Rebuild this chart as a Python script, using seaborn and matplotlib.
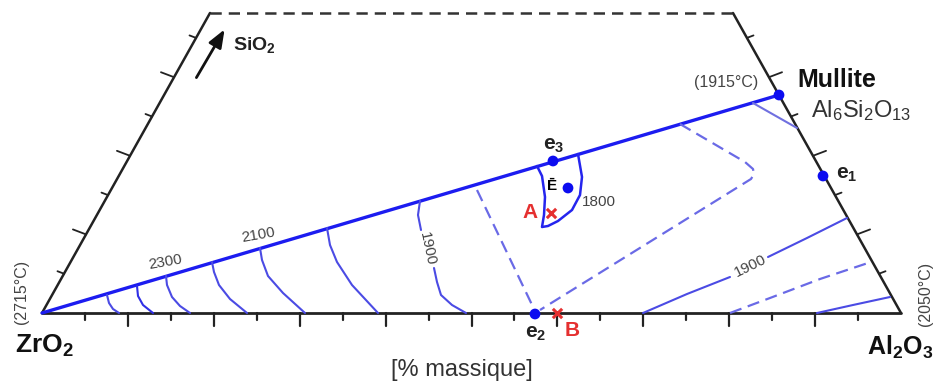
import numpy as np
import pandas as pd
import seaborn as sns
import matplotlib.pyplot as plt

# --- diagram data (pixel-like diagram coordinates, y grows downward) ---
W, H = 936, 385
zro2_corner = (42, 313)
al2o3_corner = (901, 313)
top_left = (210, 13)
top_right = (733, 13)

# liquidus valley ZrO2 -> mullite
valley_x = [42, 779]
valley_y = [313, 95]
mullite_tie_x = [753, 797]
mullite_tie_y = [103, 128]

# isotherms in the ZrO2 field (solid)
iso_zr = {
    "c1": ([107, 109, 113, 119], [295, 303, 309, 313]),
    "c2": ([137, 138, 143, 153], [286, 296, 305, 313]),
    "c3": ([166, 167, 172, 180, 190], [276, 285, 297, 306, 313]),
    "c4": ([212, 214, 219, 230, 247], [262, 272, 285, 299, 313]),
    "c5": ([260, 262, 268, 283, 305], [248, 260, 276, 293, 313]),
    "c6": ([327, 330, 337, 352, 378], [228, 245, 262, 285, 313]),
    "c7a": ([420, 418, 421], [201, 215, 230]),
    "c7b": ([434, 437, 441, 452, 466], [268, 282, 295, 305, 313]),
}
# closed field around E
e_field_x = [537, 542, 545, 544, 542, 548, 558, 572, 580, 582, 578]
e_field_y = [166, 176, 197, 215, 227, 226, 221, 210, 195, 177, 154]

# dashed boundaries
dash_lines = {
    "d1": ([477, 534], [190, 309]),
    "d2": ([680, 745, 753, 754, 751, 540], [124, 162, 169, 174, 179, 310]),
    "d3": ([730, 770, 820, 871], [313, 298, 279, 262]),
}
# isotherms in the Al2O3 field (solid)
iso_al = {
    "r1a": ([643, 687, 730], [313, 294, 277]),
    "r1b": ([768, 807, 847], [257, 238, 218]),
    "r2": ([817, 853, 890], [313, 305, 297]),
}

points = pd.DataFrame({
    "name": ["mullite", "e1", "e3", "E", "e2"],
    "x": [779, 823, 553, 568, 535],
    "y": [95, 176, 161, 188, 314],
})
red_marks_x = [551, 557]
red_marks_y = [213, 313]

sns.set_theme(style="white")
plt.rcParams['font.family'] = ['Liberation Sans', 'DejaVu Sans']
plt.rcParams['mathtext.fontset'] = 'custom'
plt.rcParams['mathtext.rm'] = 'Liberation Sans'
plt.rcParams['mathtext.bf'] = 'Liberation Sans:bold'
plt.rcParams['mathtext.default'] = 'regular'

fig = plt.figure(figsize=(W / 100, H / 100), dpi=100)
ax = fig.add_axes([0, 0, 1, 1])
ax.set_xlim(0, W)
ax.set_ylim(H, 0)
ax.axis('off')

frame_c = '#222222'
blue = '#1c1cf0'
iso_c = '#4b4be4'
dash_c = '#6a6ae6'

# triangle frame
ax.plot([zro2_corner[0], al2o3_corner[0]], [zro2_corner[1], al2o3_corner[1]], color=frame_c, lw=2)
ax.plot([zro2_corner[0], top_left[0]], [zro2_corner[1], top_left[1]], color=frame_c, lw=1.8)
ax.plot([top_right[0], al2o3_corner[0]], [top_right[1], al2o3_corner[1]], color=frame_c, lw=1.8)
ax.plot([top_left[0], top_right[0]], [top_left[1], top_right[1]], color='#333333', lw=1.8,
        linestyle=(0, (4.5, 2.8)))

# ticks
for k in range(1, 20):
    x = zro2_corner[0] + k * (al2o3_corner[0] - zro2_corner[0]) / 20
    L = 13 if k % 2 == 0 else 7
    ax.plot([x, x], [313, 313 + L], color=frame_c, lw=1.6)
for k in range(1, 8):
    y = 313 - 39.3 * k
    L = 14 if k % 2 == 0 else 7
    d = np.array([1.0, -0.38]) / np.hypot(1, 0.38)
    xl = zro2_corner[0] + (313 - y) * (top_left[0] - zro2_corner[0]) / 300
    ax.plot([xl, xl - L * d[0]], [y, y + L * d[1]], color=frame_c, lw=1.3)
    xr = al2o3_corner[0] - (313 - y) * (al2o3_corner[0] - top_right[0]) / 300
    ax.plot([xr, xr + L * d[0]], [y, y + L * d[1]], color=frame_c, lw=1.3)

# curves
sns.lineplot(x=valley_x, y=valley_y, ax=ax, color=blue, lw=2.4, sort=False, estimator=None)
sns.lineplot(x=mullite_tie_x, y=mullite_tie_y, ax=ax, color='#7070e0', lw=1.5, sort=False, estimator=None)
for key, (xs, ys) in iso_zr.items():
    c = '#2f2fe6' if key in ("c2",) else iso_c
    sns.lineplot(x=xs, y=ys, ax=ax, color=c, lw=1.5, sort=False, estimator=None)
sns.lineplot(x=e_field_x, y=e_field_y, ax=ax, color='#2525ee', lw=1.8, sort=False, estimator=None)
for key, (xs, ys) in dash_lines.items():
    ax.plot(xs, ys, color=dash_c, lw=1.6, linestyle=(0, (5.5, 3.0)))
for key, (xs, ys) in iso_al.items():
    sns.lineplot(x=xs, y=ys, ax=ax, color=iso_c, lw=1.5, sort=False, estimator=None)

sns.scatterplot(data=points, x="x", y="y", ax=ax, color='#0c0cf0', s=60, edgecolor='none', zorder=5)
ax.scatter(red_marks_x, red_marks_y, marker='x', color='#e53030', s=45, lw=2.2, zorder=6)

# arrow for SiO2
ax.annotate('', xy=(226, 27), xytext=(195, 80),
            arrowprops=dict(arrowstyle='-|>,head_length=0.9,head_width=0.35', color='#111111', lw=2))

# labels
dark = '#111111'
gray = '#444444'
ax.text(15, 353, 'ZrO$_2$', fontsize=19, fontweight='bold', color=dark, ha='left', va='baseline')
ax.text(867, 355, 'Al$_2$O$_3$', fontsize=18, fontweight='bold', color=dark, ha='left', va='baseline')
ax.text(233, 50, 'SiO$_2$', fontsize=14, fontweight='bold', color='#222222', ha='left', va='baseline')
ax.text(797, 87, 'Mullite', fontsize=18, fontweight='bold', color=dark, ha='left', va='baseline')
ax.text(811, 117, 'Al$_6$Si$_2$O$_{13}$', fontsize=17, color='#333333', ha='left', va='baseline')
ax.text(694, 82, '(1915°C)', fontsize=11.5, color=gray, ha='left', va='center')
ax.text(22, 292, '(2715°C)', fontsize=11.5, color=gray, ha='center', va='center', rotation=90)
ax.text(926, 294, '(2050°C)', fontsize=11.5, color=gray, ha='center', va='center', rotation=90)
ax.text(462, 370, '[% massique]', fontsize=17, color='#333333', ha='center', va='center')

ax.text(543, 150, 'e$_3$', fontsize=15, fontweight='bold', color='#222222', ha='left', va='baseline')
ax.text(836, 179, 'e$_1$', fontsize=15, fontweight='bold', color='#222222', ha='left', va='baseline')
ax.text(525, 338, 'e$_2$', fontsize=15, fontweight='bold', color='#222222', ha='left', va='baseline')
ax.text(552, 186, 'Ē', fontsize=11, fontweight='bold', color='black', ha='center', va='center',
        bbox=dict(facecolor='white', edgecolor='none', pad=1))
ax.text(582, 202, '1800', fontsize=11, color=gray, ha='left', va='center')
ax.text(522, 212, 'A', fontsize=15, fontweight='bold', color='#e53030', ha='left', va='center')
ax.text(565, 330, 'B', fontsize=15, fontweight='bold', color='#e53030', ha='left', va='center')
ax.text(165, 262, '2300', fontsize=11, color=gray, ha='center', va='center', rotation=10)
ax.text(258, 235, '2100', fontsize=11, color=gray, ha='center', va='center', rotation=10)
ax.text(427, 249, '1900', fontsize=11, color=gray, ha='center', va='center', rotation=-78)
ax.text(750, 266, '1900', fontsize=11, color=gray, ha='center', va='center', rotation=26)

fig.savefig('out.png', dpi=100)
